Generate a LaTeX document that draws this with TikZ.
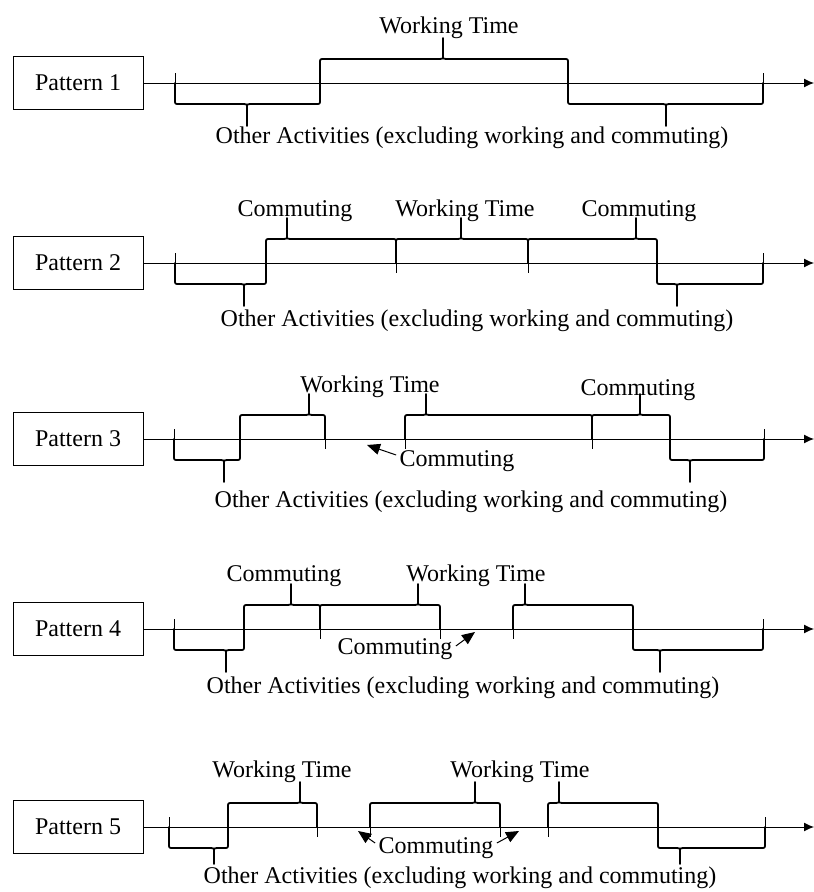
\documentclass[tikz,border=0pt]{standalone}
\usepackage{fontspec}
\setmainfont{Liberation Serif}
\usepackage{tikz}
\usetikzlibrary{positioning}
\usetikzlibrary{arrows.meta, calc}

\tikzset{
    patbox/.style={draw, line width=0.9pt, minimum width=130pt, minimum height=53pt, inner sep=0pt},
    axisline/.style={line width=1pt, -{Latex[length=10pt,width=9pt]}},
    tickline/.style={line width=0.8pt},
    brk/.style={line width=1.8pt, line cap=round, line join=round},
    pointer/.style={line width=1pt, -{Triangle[length=13pt,width=11pt]}},
}

\newcommand{\tickset}[1]{\foreach \tx in {#1} {\draw[tickline] (\tx,10) -- (\tx,-10);}}
\newcommand{\braceup}[3]{%
    \draw[brk] (#1,0) -- (#1,20) .. controls (#1,24) .. (#1+4,24) -- (#3-3,24) .. controls (#3,24) .. (#3,28) -- (#3,45);
    \draw[brk] (#3,28) .. controls (#3,24) .. (#3+3,24) -- (#2-4,24) .. controls (#2,24) .. (#2,20) -- (#2,0);}
\newcommand{\bracedown}[4][43]{%
    \draw[brk] (#2,0) -- (#2,-17) .. controls (#2,-21) .. (#2+4,-21) -- (#4-3,-21) .. controls (#4,-21) .. (#4,-25) -- (#4,-#1);
    \draw[brk] (#4,-25) .. controls (#4,-21) .. (#4+3,-21) -- (#3-4,-21) .. controls (#3,-21) .. (#3,-17) -- (#3,0);}

\begin{document}
\begin{tikzpicture}[x=1pt, y=1pt, font=\fontsize{24}{28}\selectfont]
            \useasboundingbox (0,0) rectangle (814,-892);
            \begin{scope}[shift={(0,-83)}]
                \node[patbox] (p1) at (78,0) {Pattern 1};
                \coordinate (e1) at (814,0);
                \draw[axisline] (p1.east) -- (e1);
                \tickset{175,320,568,763}
                \braceup{320}{568}{443}
                \bracedown{175}{320}{247}
                \bracedown{568}{763}{666}
                \node (w1) at (449,55) {Working Time};
                \node (o1) at (472,-55) {Other Activities (excluding working and commuting)};
            \end{scope}
            \begin{scope}[shift={(0,-263)}]
                \node[patbox] (p2) at (78,0) {Pattern 2};
                \coordinate (e2) at (814,0);
                \draw[axisline] (p2.east) -- (e2);
                \tickset{175,266,396,528,657,763}
                \braceup{266}{396}{287}
                \braceup{396}{528}{461}
                \braceup{528}{657}{636}
                \bracedown{175}{266}{244}
                \bracedown{657}{763}{677}
                \node (c2a) at (295,52) {Commuting};
                \node (w2) at (465,52) {Working Time};
                \node (c2b) at (639,52) {Commuting};
                \node (o2) at (477,-58) {Other Activities (excluding working and commuting)};
            \end{scope}
            \begin{scope}[shift={(0,-439)}]
                \node[patbox] (p3) at (78,0) {Pattern 3};
                \coordinate (e3) at (814,0);
                \draw[axisline] (p3.east) -- (e3);
                \tickset{174,240,325,405,592,670,764}
                \braceup{240}{325}{309}
                \braceup{405}{592}{426}
                \braceup{592}{670}{640}
                \bracedown{174}{240}{224}
                \bracedown{670}{764}{690}
                \node (w3) at (370,52) {Working Time};
                \node (c3b) at (638,49) {Commuting};
                \node (c3) at (457,-22) {Commuting};
                \coordinate (g3) at (367,-6);
                \draw[pointer] ([yshift=6pt]c3.west) -- (g3);
                \node (o3) at (471,-63) {Other Activities (excluding working and commuting)};
            \end{scope}
            \begin{scope}[shift={(0,-629)}]
                \node[patbox] (p4) at (78,0) {Pattern 4};
                \coordinate (e4) at (814,0);
                \draw[axisline] (p4.east) -- (e4);
                \tickset{174,244,320,440,513,633,763}
                \braceup{244}{320}{291}
                \braceup{320}{440}{418}
                \braceup{513}{633}{525}
                \bracedown{174}{244}{226}
                \bracedown{633}{763}{660}
                \node (c4a) at (284,53) {Commuting};
                \node (w4) at (476,53) {Working Time};
                \node (c4) at (395,-20) {Commuting};
                \coordinate (g4) at (475,-3);
                \draw[pointer] ([yshift=3pt]c4.east) -- (g4);
                \node (o4) at (463,-59) {Other Activities (excluding working and commuting)};
            \end{scope}
            \begin{scope}[shift={(0,-827)}]
                \node[patbox] (p5) at (78,0) {Pattern 5};
                \coordinate (e5) at (814,0);
                \draw[axisline] (p5.east) -- (e5);
                \tickset{169,228,317,370,500,548,658,765}
                \braceup{228}{317}{300}
                \braceup{370}{500}{475}
                \braceup{548}{658}{559}
                \bracedown[37]{169}{228}{214}
                \bracedown[37]{658}{765}{680}
                \node (w5a) at (282,55) {Working Time};
                \node (w5b) at (520,55) {Working Time};
                \node (c5) at (436,-21) {Commuting};
                \coordinate (g5a) at (358,-4);
                \coordinate (g5b) at (519,-4);
                \draw[pointer] ([yshift=5pt]c5.west) -- (g5a);
                \draw[pointer] ([yshift=5pt]c5.east) -- (g5b);
                \node[inner sep=1pt] (o5) at (460,-51) {Other Activities (excluding working and commuting)};
            \end{scope}
        \end{tikzpicture}
\end{document}
